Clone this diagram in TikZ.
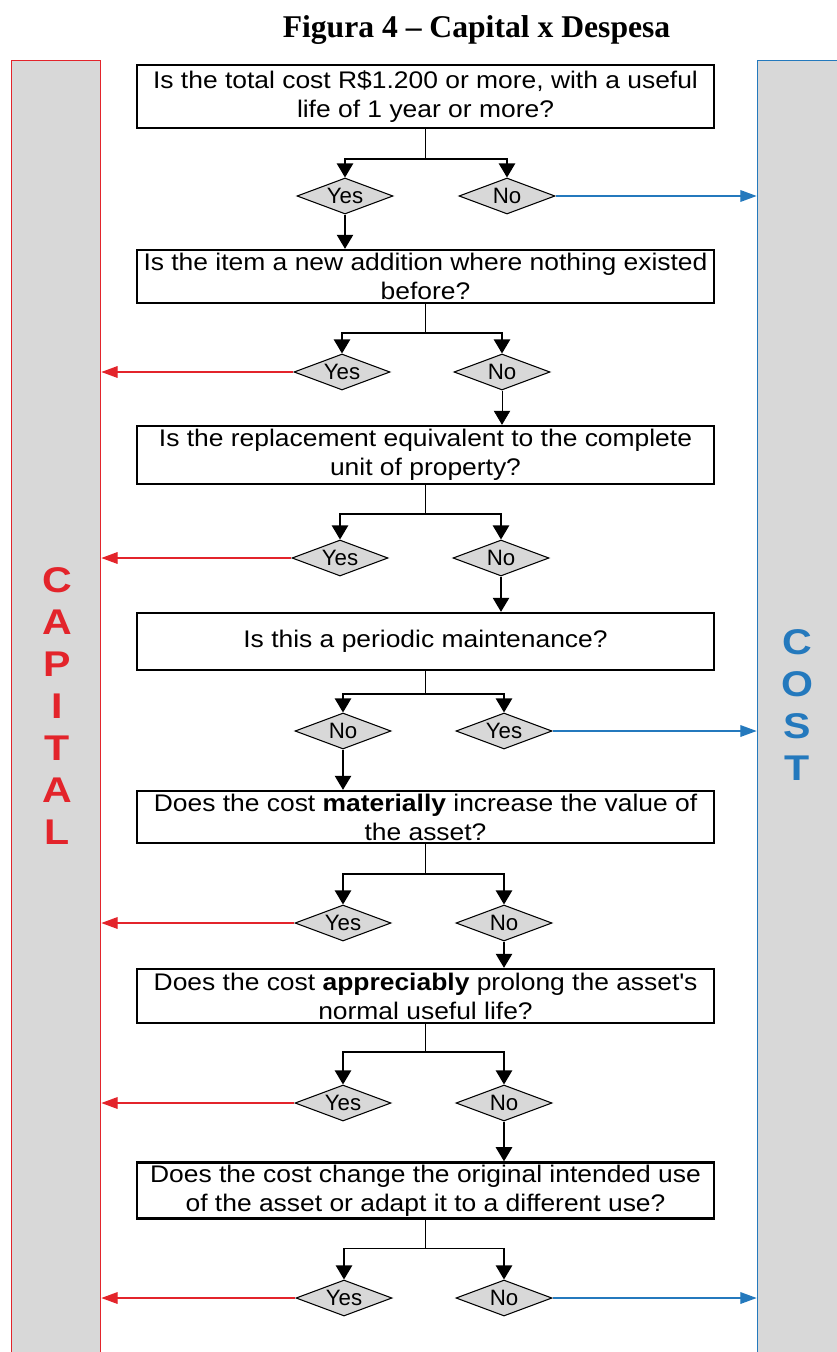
\documentclass[tikz,border=0pt]{standalone}
\usepackage{fontspec}
\setmainfont{Liberation Serif}
\newfontfamily\flowfont[FakeStretch=1.1]{Liberation Sans}
\newfontfamily\answerfont{Liberation Sans}
\newfontfamily\barfont[FakeStretch=1.15]{Liberation Sans}
\usetikzlibrary{arrows.meta,shapes.geometric}
\definecolor{cxRed}{HTML}{E3242B}
\definecolor{cxBlue}{HTML}{2479BD}
\definecolor{cxGray}{HTML}{D8D8D8}
\tikzset{
  cx title/.style={font=\bfseries\fontsize{27}{32}\selectfont, inner sep=0pt},
  cx bar/.style={rectangle, fill=cxGray, line width=1.4pt, inner sep=0pt},
  cx word/.style={align=center, inner sep=0pt, font=\barfont\bfseries\fontsize{30.5}{35.85}\selectfont},
  cx question/.style={rectangle, draw=black, line width=2pt, fill=white, minimum width=17.31cm, align=center, inner sep=2pt, font=\flowfont\fontsize{20.5}{24.75}\selectfont},
  cx answer/.style={diamond, aspect=2.67, draw=black, line width=0.9pt, fill=cxGray, minimum width=2.88cm, minimum height=1.08cm, inner sep=0pt, font=\answerfont\fontsize{19}{20}\selectfont},
  cx link/.style={draw=black, line width=1.2pt},
  cx flow/.style={cx link, -{Triangle[width=14pt,length=12pt]}},
  capital flow/.style={draw=cxRed, line width=1.2pt, -{Triangle[width=10pt,length=14pt]}},
  cost flow/.style={draw=cxBlue, line width=1.2pt, -{Triangle[width=10pt,length=14pt]}},
}
\begin{document}
\begin{tikzpicture}[x=0.03cm,y=-0.03cm]
  \useasboundingbox (0,0) rectangle (836,1352);
  \node[cx title, anchor=base] (title) at (476.5,38) {Figura 4 -- Capital x Despesa};

  % side bars
  \node[cx bar, draw=cxRed, minimum width=2.67cm, minimum height=39cm] (capbar) at (56,710.5) {};
  \node[cx bar, draw=cxBlue, minimum width=3.2cm, minimum height=39cm] (costbar) at (810.8,710.5) {};
  \node[cx word, text=cxRed] (capword) at (57,706) {C\\A\\P\\I\\T\\A\\L};
  \node[cx word, text=cxBlue] (costword) at (797,705) {C\\O\\S\\T};

  % questions
  \node[cx question, minimum height=1.89cm] (q1) at (425.5,96.5) {Is the total cost R\$1.200 or more, with a useful\\life of 1 year or more?};
  \node[cx question, minimum height=1.59cm] (q2) at (425.5,276.5) {Is the item a new addition where nothing existed\\before?};
  \node[cx question, minimum height=1.74cm] (q3) at (425.5,455) {Is the replacement equivalent to the complete\\unit of property?};
  \node[cx question, minimum height=1.71cm] (q4) at (425.5,641.5) {Is this a periodic maintenance?};
  \node[cx question, minimum height=1.56cm] (q5) at (425.5,817) {Does the cost \textbf{materially} increase the value of\\the asset?};
  \node[cx question, minimum height=1.62cm] (q6) at (425.5,996) {Does the cost \textbf{appreciably} prolong the asset\textquotesingle s\\normal useful life?};
  \node[cx question, minimum height=1.59cm] (q7) at (425.5,1190.5) {Does the cost change the original intended use\\of the asset or adapt it to a different use?};

  % answers
  \node[cx answer] (y1) at (345,196) {Yes};
  \node[cx answer] (n1) at (507,196) {No};
  \node[cx answer] (y2) at (342,372) {Yes};
  \node[cx answer] (n2) at (502,372) {No};
  \node[cx answer] (y3) at (340,558) {Yes};
  \node[cx answer] (n3) at (501,558) {No};
  \node[cx answer] (n4) at (343,731) {No};
  \node[cx answer] (y4) at (504,731) {Yes};
  \node[cx answer] (y5) at (343,923) {Yes};
  \node[cx answer] (n5) at (504,923) {No};
  \node[cx answer] (y6) at (343,1103) {Yes};
  \node[cx answer] (n6) at (504,1103) {No};
  \node[cx answer] (y7) at (344,1298) {Yes};
  \node[cx answer] (n7) at (504,1298) {No};

  % splits below each question
  \path (q1.south) ++(0,30) coordinate (j1);
  \path (q2.south) ++(0,29) coordinate (j2);
  \path (q3.south) ++(0,29) coordinate (j3);
  \path (q4.south) ++(0,23) coordinate (j4);
  \path (q5.south) ++(0,30) coordinate (j5);
  \path (q6.south) ++(0,28) coordinate (j6);
  \path (q7.south) ++(0,29) coordinate (j7);
  \foreach \j/\q/\a/\b in {j1/q1/y1/n1, j2/q2/y2/n2, j3/q3/y3/n3, j4/q4/n4/y4, j5/q5/y5/n5, j6/q6/y6/n6, j7/q7/y7/n7} {
    \draw[cx link] (\q.south) -- (\j);
    \draw[cx flow] (\j) -| (\a.north);
    \draw[cx flow] (\j) -| (\b.north);
  }

  % down to the next question
  \draw[cx flow] (y1.south) -- (y1.south |- q2.north);
  \draw[cx flow, line width=0.6pt] (n2.south) -- (n2.south |- q3.north);
  \draw[cx flow] (n3.south) -- (n3.south |- q4.north);
  \draw[cx flow] (n4.south) -- (n4.south |- q5.north);
  \draw[cx flow] (n5.south) -- (n5.south |- q6.north);
  \draw[cx flow] (n6.south) -- (n6.south |- q7.north);

  % to capital
  \foreach \a in {y2,y3,y5,y6,y7}
    \draw[capital flow] (\a.west) -- (\a.west -| capbar.east);
  % to cost
  \foreach \a in {n1,y4,n7}
    \draw[cost flow] (\a.east) -- (\a.east -| costbar.west);
\end{tikzpicture}
\end{document}
